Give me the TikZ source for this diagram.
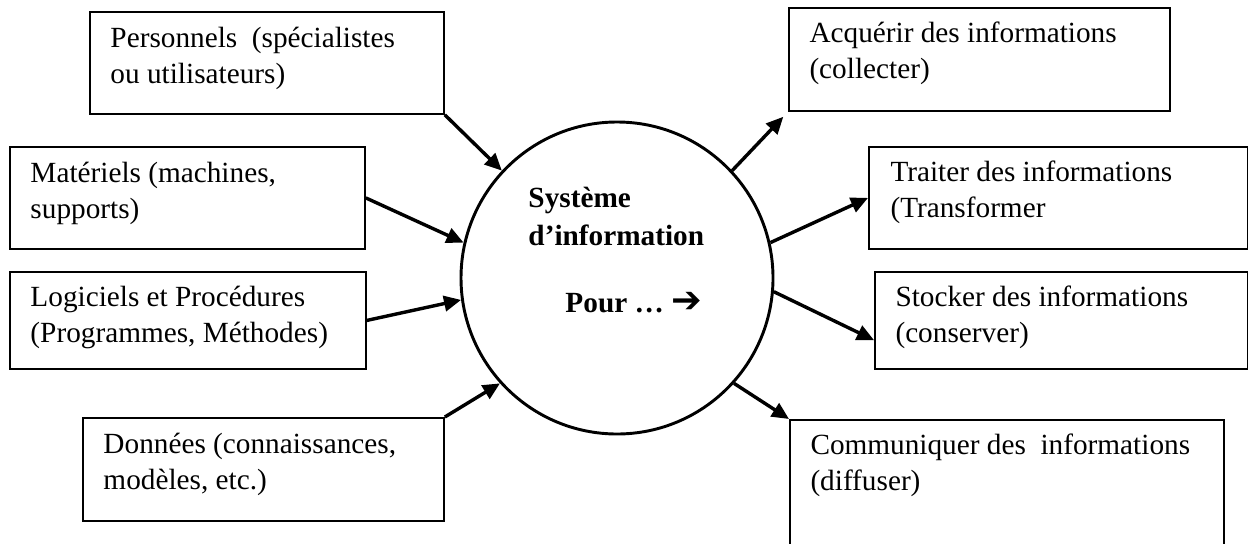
\documentclass[tikz,border=0pt]{standalone}
\usepackage{fontspec}
\setmainfont{Liberation Serif}
\newfontfamily\symfont{DejaVu Sans}
\usetikzlibrary{arrows.meta,positioning}
\newdimen\pxu \pxu=0.41pt
\tikzset{
    every node/.style={font=\fontsize{12}{14.8}\selectfont}
}

\begin{document}
\begin{tikzpicture}[x=\pxu,y=-\pxu]
    % Define block styles
    \tikzstyle{box} = [rectangle, draw, line width=0.75pt, anchor=north west, inner sep=0pt]
    \tikzstyle{txt} = [anchor=north west, inner sep=0pt, align=left]
    \tikzstyle{line} = [draw, line width=1.4pt, -{Triangle[length=7pt,width=6.3pt]}]
    \useasboundingbox (0,0) rectangle (1248,543);

    % Place nodes
    \node [circle, draw, line width=1.2pt, minimum size=312\pxu, inner sep=0pt] (sys) at (617,278) {};
    \node [txt, font=\bfseries\fontsize{12}{15.5}\selectfont] (systxt) at ([shift={(-89,-97.5)}]sys.center)
        {\strut Système\\d’information\\[12pt]\hspace*{37\pxu}Pour …\ {\symfont\bfseries\fontsize{15}{15}\selectfont ➔}};

    \node [box, minimum width=354\pxu, minimum height=102\pxu] (pers) at (89,11) {};
    \node [box, minimum width=355\pxu, minimum height=102\pxu] (mat) at (9,146) {};
    \node [box, minimum width=356\pxu, minimum height=97\pxu] (log) at (9,271) {};
    \node [box, minimum width=361\pxu, minimum height=103\pxu] (don) at (82,417) {};
    \node [box, minimum width=381\pxu, minimum height=103\pxu] (acq) at (788,7) {};
    \node [box, minimum width=379\pxu, minimum height=102\pxu] (tra) at (868,146) {};
    \node [box, minimum width=373\pxu, minimum height=97\pxu] (sto) at (874,271) {};
    \node [box, minimum width=434\pxu, minimum height=130\pxu] (com) at (789,419) {};

    \node [txt] (perstxt) at ([shift={(21,11)}]pers.north west) {\strut Personnels\ \ (spécialistes\\ou utilisateurs)};
    \node [txt] (mattxt) at ([shift={(21,11)}]mat.north west) {\strut Matériels (machines,\\supports)};
    \node [txt] (logtxt) at ([shift={(21,10)}]log.north west) {\strut Logiciels et Procédures\\(Programmes, Méthodes)};
    \node [txt] (dontxt) at ([shift={(21,11)}]don.north west) {\strut Données (connaissances,\\modèles, etc.)};
    \node [txt] (acqtxt) at ([shift={(21,10)}]acq.north west) {\strut Acquérir des informations\\(collecter)};
    \node [txt] (tratxt) at ([shift={(22,10)}]tra.north west) {\strut Traiter des informations\\(Transformer};
    \node [txt] (stotxt) at ([shift={(21,10)}]sto.north west) {\strut Stocker des informations\\(conserver)};
    \node [txt] (comtxt) at ([shift={(21,10)}]com.north west) {\strut Communiquer des\ \ informations\\(diffuser)};

    % Connect nodes
    \draw [line] (pers.south east) -- (sys.137);
    \draw [line] (mat.east) -- (sys.167);
    \draw [line] (log.east) -- (sys.188);
    \draw [line] (don.north east) -- (sys.222);
    \draw [line, shorten >=2.8pt] (sys.43) -- (acq.south west);
    \draw [line] (sys.13) -- (tra.west);
    \draw [line] (sys.-5) -- (sto.186);
    \draw [line] (sys.318) -- (com.north west);
\end{tikzpicture}
\end{document}
